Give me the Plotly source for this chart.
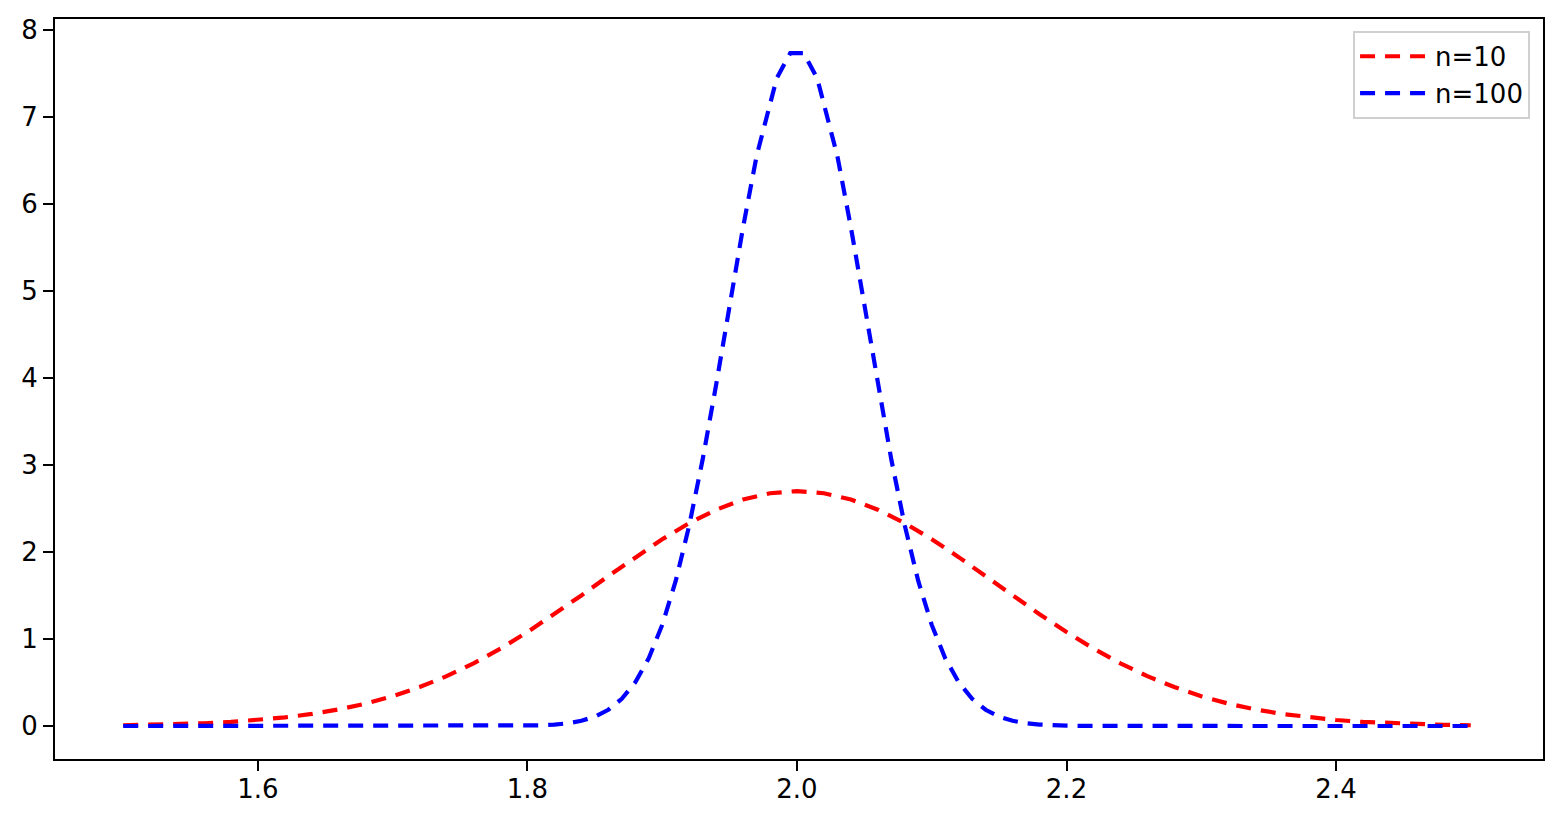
import plotly.graph_objects as go

# Red curve (n=10)
x_n10 = [1.50, 1.52, 1.54, 1.56, 1.58, 1.60, 1.62, 1.64, 1.66, 1.68, 1.70, 1.72, 1.74,
         1.76, 1.78, 1.80, 1.82, 1.84, 1.86, 1.88, 1.90, 1.92, 1.94, 1.96, 1.98, 2.00,
         2.02, 2.04, 2.06, 2.08, 2.10, 2.12, 2.14, 2.16, 2.18, 2.20, 2.22, 2.24, 2.26,
         2.28, 2.30, 2.32, 2.34, 2.36, 2.38, 2.40, 2.42, 2.44, 2.46, 2.48, 2.50]
y_n10 = [0.009, 0.014, 0.021, 0.032, 0.047, 0.069, 0.099, 0.139, 0.191, 0.258, 0.343,
         0.448, 0.573, 0.721, 0.890, 1.080, 1.285, 1.501, 1.723, 1.941, 2.147, 2.332,
         2.486, 2.603, 2.675, 2.700, 2.675, 2.603, 2.486, 2.332, 2.147, 1.941, 1.723,
         1.501, 1.285, 1.080, 0.890, 0.721, 0.573, 0.448, 0.343, 0.258, 0.191, 0.139,
         0.099, 0.069, 0.047, 0.032, 0.021, 0.014, 0.009]

# Blue curve (n=100)
x_n100 = [1.50, 1.60, 1.70, 1.75, 1.78, 1.80, 1.81, 1.82, 1.83, 1.84, 1.85, 1.86, 1.87,
          1.88, 1.89, 1.90, 1.91, 1.92, 1.93, 1.94, 1.95, 1.96, 1.97, 1.985, 1.995,
          2.005, 2.015, 2.03, 2.04, 2.05, 2.06, 2.07, 2.08, 2.09, 2.10, 2.11, 2.12,
          2.13, 2.14, 2.15, 2.16, 2.17, 2.18, 2.19, 2.20, 2.22, 2.25, 2.30, 2.40, 2.50]
y_n100 = [0.0, 0.0, 0.0, 0.0, 0.0008, 0.0039, 0.0082, 0.0165, 0.032, 0.060, 0.108,
          0.187, 0.313, 0.503, 0.779, 1.162, 1.667, 2.303, 3.063, 3.921, 4.832, 5.733,
          6.549, 7.445, 7.733, 7.733, 7.445, 6.549, 5.733, 4.832, 3.921, 3.063, 2.303,
          1.667, 1.162, 0.779, 0.503, 0.313, 0.187, 0.108, 0.060, 0.032, 0.0165,
          0.0082, 0.0039, 0.0008, 0.0, 0.0, 0.0, 0.0]

x_ticks = [1.6, 1.8, 2.0, 2.2, 2.4]
x_ticklabels = ["1.6", "1.8", "2.0", "2.2", "2.4"]
y_ticks = [0, 1, 2, 3, 4, 5, 6, 7, 8]

FONT = "DejaVu Sans"
DASH = "15px,10px"

fig = go.Figure()
fig.add_trace(go.Scatter(x=x_n10, y=y_n10, mode="lines", name="n=10",
                         line=dict(color="red", width=4.2, dash=DASH)))
fig.add_trace(go.Scatter(x=x_n100, y=y_n100, mode="lines", name="n=100",
                         line=dict(color="blue", width=4.2, dash=DASH)))

axis_common = dict(showline=True, mirror=True, linecolor="black", linewidth=2,
                   ticks="outside", ticklen=10, tickwidth=2, tickcolor="black",
                   showgrid=False, zeroline=False, automargin=False,
                   tickfont=dict(family=FONT, size=26, color="black"))

# page body has an 8px margin, so the figure is sized to sit at (8, 8)
fig.update_layout(
    width=1554, height=815,
    margin=dict(l=47, r=19, t=11, b=64),
    plot_bgcolor="white", paper_bgcolor="white",
    font=dict(family=FONT, size=26, color="black"),
    xaxis=dict(range=[1.4494, 2.5536], tickvals=x_ticks, ticktext=x_ticklabels,
               ticklabelstandoff=-4, **axis_common),
    yaxis=dict(range=[-0.379, 8.126], tickvals=y_ticks, **axis_common),
    legend=dict(x=0.9913, y=0.984, xanchor="right", yanchor="top",
                bgcolor="rgba(255,255,255,0.8)", bordercolor="#d0d0d0", borderwidth=2,
                font=dict(family=FONT, size=26, color="black"),
                itemwidth=70),
)

fig.write_html("out.html")
